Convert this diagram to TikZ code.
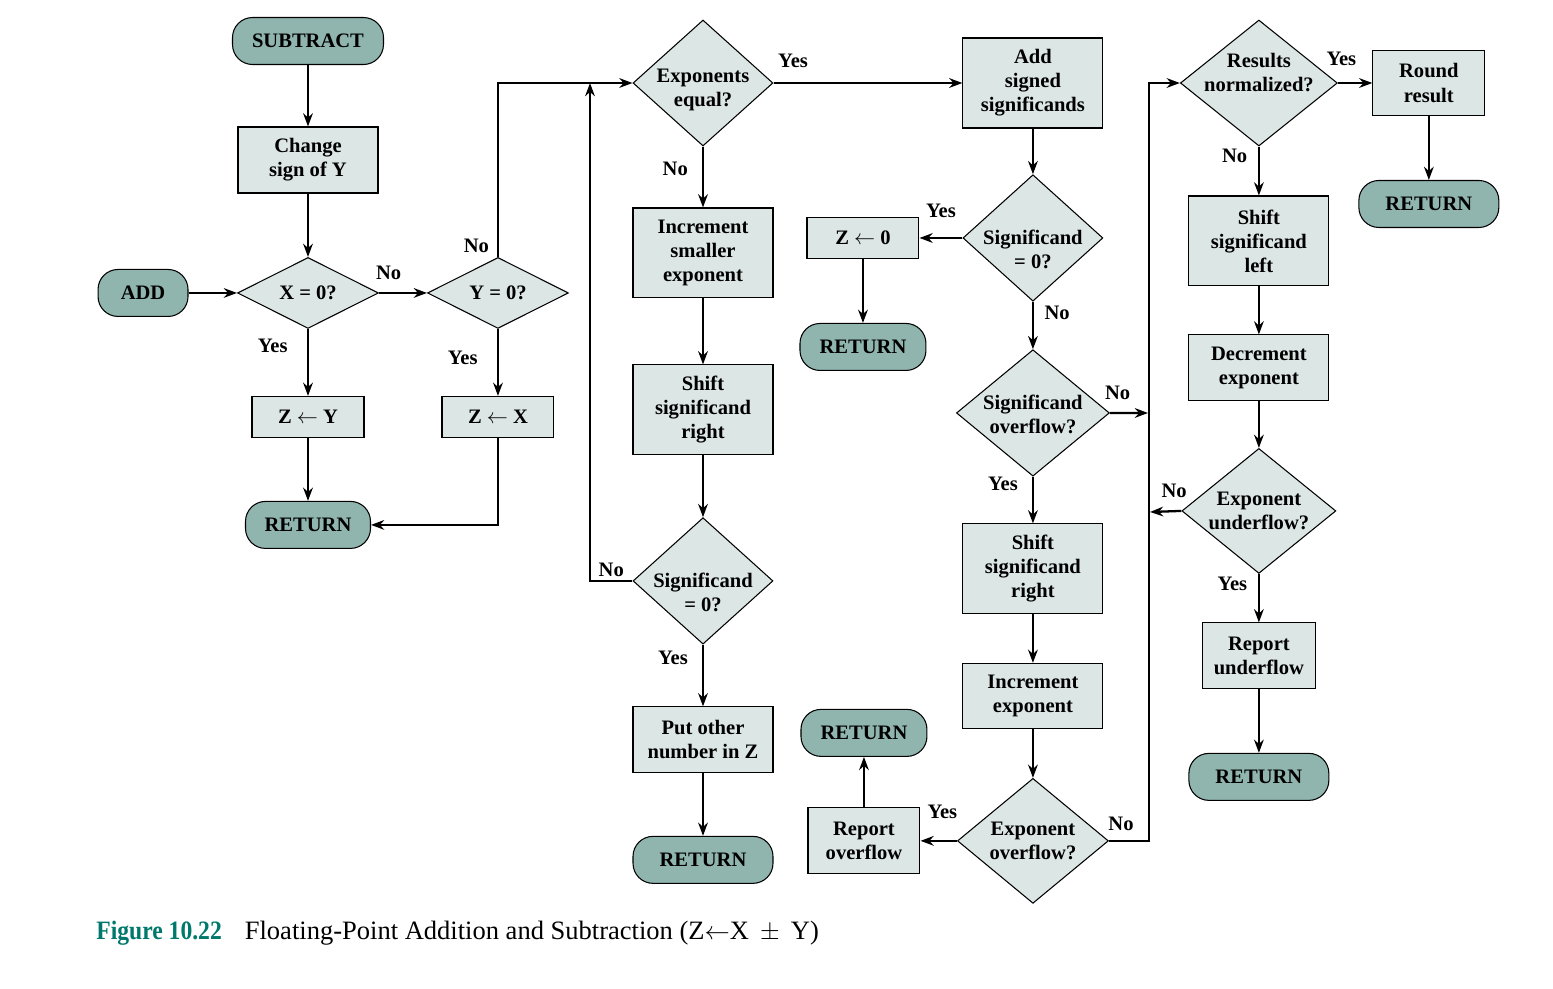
\documentclass[tikz,border=0pt]{standalone}
\usepackage{fontspec}
\setmainfont{Liberation Serif}
\usetikzlibrary{shapes.geometric, arrows, arrows.meta, positioning}
\definecolor{termfill}{HTML}{8FB5AE}
\definecolor{boxfill}{HTML}{DCE6E4}
\definecolor{figteal}{HTML}{00786B}
\newcommand{\chartfont}{\fontsize{11.7}{13.7}\selectfont\bfseries}
% text set off the middle of its diamond
\newcommand{\shifttext}[2]{\raisebox{#1}[\height][\depth]{\begin{tabular}{@{}c@{}}#2\end{tabular}}}
\tikzstyle{startstop} = [rectangle, rounded corners=0.4cm, minimum width=2.8cm, minimum height=0.94cm, text centered, draw=black, line width=0.6pt, fill=termfill, font=\chartfont]
\tikzstyle{process} = [rectangle, minimum width=2.8cm, minimum height=1.8cm, text centered, align=center, draw=black, line width=0.6pt, fill=boxfill, font=\chartfont]
\tikzstyle{decision} = [diamond, minimum width=2.8cm, minimum height=2.5cm, inner sep=-3pt, text centered, align=center, draw=black, line width=0.6pt, fill=boxfill, font=\chartfont]
\tikzstyle{answer} = [font=\chartfont, inner sep=2pt]
\tikzstyle{arrow} = [line width=1.3pt,->,>={Stealth[length=7.5pt,width=5.5pt]}]
\begin{document}
\begin{tikzpicture}[x=0.02cm, y=-0.02cm]
\useasboundingbox (0,0) rectangle (1553,988);
	% zero tests
	\node (sub) [startstop, minimum width=3.02cm] at (308,41) {SUBTRACT};
	\node (chg) [process, node distance=2.38cm, below of=sub, minimum height=1.32cm] {Change\\sign of Y};
	\node (xzero) [decision, node distance=2.66cm, below of=chg, minimum width=2.82cm, minimum height=1.42cm] {X = 0?};
	\node (add) [startstop, node distance=3.3cm, left of=xzero, minimum width=1.8cm] {ADD};
	\node (yzero) [decision, node distance=3.8cm, right of=xzero, minimum width=2.82cm, minimum height=1.42cm] {Y = 0?};
	\node (zy) [process, node distance=2.48cm, below of=xzero, minimum width=2.24cm, minimum height=0.82cm] {Z $\leftarrow$ Y};
	\node (zx) [process, node distance=2.48cm, below of=yzero, minimum width=2.24cm, minimum height=0.82cm] {Z $\leftarrow$ X};
	\node (retzero) [startstop, node distance=2.16cm, below of=zy, minimum width=2.5cm] {RETURN};
	% align exponents
	\node (expeq) [decision, minimum height=2.52cm] at (703,83) {\shifttext{-4pt}{Exponents\\equal?}};
	\node (incsmall) [process, node distance=3.4cm, below of=expeq] {Increment\\smaller\\exponent};
	\node (shiftr) [process, node distance=3.14cm, below of=incsmall] {Shift\\significand\\right};
	\node (sigzero) [decision, node distance=3.42cm, below of=shiftr] {\shifttext{-8pt}{Significand\\= 0?}};
	\node (putz) [process, node distance=3.18cm, below of=sigzero, minimum height=1.32cm] {Put other\\number in Z};
	\node (retput) [startstop, node distance=2.4cm, below of=putz] {RETURN};
	% add significands
	\node (addsig) [process, node distance=6.6cm, right of=expeq] {Add\\signed\\significands};
	\node (sumzero) [decision, node distance=3.1cm, below of=addsig] {\shifttext{-8pt}{Significand\\= 0?}};
	\node (zzero) [process, node distance=3.4cm, left of=sumzero, minimum width=2.24cm, minimum height=0.82cm] {Z $\leftarrow$ 0};
	\node (retsum) [startstop, node distance=2.18cm, below of=zzero, minimum width=2.52cm] {RETURN};
	\node (sigovf) [decision, node distance=3.5cm, below of=sumzero, minimum width=3.06cm] {\shifttext{-2pt}{Significand\\overflow?}};
	\node (shiftr2) [process, node distance=3.12cm, below of=sigovf] {Shift\\significand\\right};
	\node (incexp) [process, node distance=2.54cm, below of=shiftr2, minimum height=1.3cm] {Increment\\exponent};
	\node (expovf) [decision, node distance=2.9cm, below of=incexp, minimum width=3.02cm] {Exponent\\overflow?};
	\node (repovf) [process, node distance=3.38cm, left of=expovf, minimum width=2.24cm, minimum height=1.32cm] {Report\\overflow};
	\node (retovf) [startstop, node distance=2.16cm, above of=repovf, minimum width=2.52cm] {RETURN};
	% normalize
	\node (resnorm) [decision, node distance=4.52cm, right of=addsig, minimum width=3.14cm, minimum height=2.52cm, inner sep=-6pt] {\shifttext{5pt}{Results\\normalized?}};
	\node (round) [process, node distance=3.4cm, right of=resnorm, minimum width=2.24cm, minimum height=1.3cm] {Round\\result};
	\node (retround) [startstop, node distance=2.42cm, below of=round] {RETURN};
	\node (shiftl) [process, node distance=3.16cm, below of=resnorm] {Shift\\significand\\left};
	\node (decexp) [process, node distance=2.54cm, below of=shiftl, minimum height=1.32cm] {Decrement\\exponent};
	\node (expunf) [decision, node distance=2.86cm, below of=decexp, minimum width=3.08cm] {Exponent\\underflow?};
	\node (repunf) [process, node distance=2.9cm, below of=expunf, minimum width=2.26cm, minimum height=1.32cm] {Report\\underflow};
	\node (retunf) [startstop, node distance=2.42cm, below of=repunf] {RETURN};
	\coordinate (loopin) at (590,83);
	\coordinate (busup) at (1149,83);
	\coordinate (ovfin) at (1148,413);
	\coordinate (unfin) at (1150,512);
	\node (cap) [anchor=west, inner sep=0pt, font=\fontsize{15.1}{17}\selectfont] at (96,933) {\textcolor{figteal}{\scalebox{0.89}[1]{\bfseries Figure 10.22}}\hspace{0.46cm}Floating-Point Addition and Subtraction (Z$\leftarrow$X \,$\pm$\, Y)};
	\draw [arrow] (sub) -- (chg);
	\draw [arrow] (chg) -- (xzero);
	\draw [arrow] (add) -- (xzero);
	\draw [arrow] (xzero) -- node[answer, pos=0.2, above=5pt] {No} (yzero);
	\draw [arrow] (xzero) -- node[answer, pos=0.25, left=9pt] {Yes} (zy);
	\draw [arrow] (yzero) -- node[answer, pos=0.43, left=9pt] {Yes} (zx);
	\draw [arrow] (yzero.north) |- node[answer, pos=0, anchor=south east, xshift=-2.5pt] {No} (expeq.west);
	\draw [arrow] (zy) -- (retzero);
	\draw [arrow] (zx.south) |- (retzero.east);
	\draw [arrow] (expeq) -- node[answer, pos=0, anchor=south west, yshift=6pt] {Yes} (addsig);
	\draw [arrow] (expeq) -- node[answer, pos=0.37, left=6pt] {No} (incsmall);
	\draw [arrow] (incsmall) -- (shiftr);
	\draw [arrow] (shiftr) -- (sigzero);
	\draw [arrow] (sigzero.west) -| node[answer, pos=0.25, above] {No} (loopin);
	\draw [arrow] (sigzero) -- node[answer, pos=0.22, left=6pt] {Yes} (putz);
	\draw [arrow] (putz) -- (retput);
	\draw [arrow] (addsig) -- (sumzero);
	\draw [arrow] (sumzero) -- node[answer, pos=0.5, above=9pt] {Yes} (zzero);
	\draw [arrow] (zzero) -- (retsum);
	\draw [arrow] (sumzero) -- node[answer, pos=0.24, right=4pt] {No} (sigovf);
	\draw [arrow] (sigovf.east) -- node[answer, pos=0.2, above=5pt] {No} (ovfin);
	\draw [arrow] (sigovf) -- node[answer, pos=0.16, left=6pt] {Yes} (shiftr2);
	\draw [arrow] (shiftr2) -- (incexp);
	\draw [arrow] (incexp) -- (expovf);
	\draw [arrow] (expovf) -- node[answer, pos=0.4, above=10pt] {Yes} (repovf);
	\draw [arrow] (repovf) -- (retovf);
	\draw [arrow] (expovf.east) -| node[answer, pos=0.15, above=3pt] {No} (busup) -- (resnorm.west);
	\draw [arrow] (resnorm) -- node[answer, pos=0.1, above=7pt] {Yes} (round);
	\draw [arrow] (round) -- (retround);
	\draw [arrow] (resnorm) -- node[answer, pos=0.2, left=4pt] {No} (shiftl);
	\draw [arrow] (shiftl) -- (decexp);
	\draw [arrow] (decexp) -- (expunf);
	\draw [arrow] (expunf.west) -- node[answer, pos=0.23, above=5pt] {No} (unfin);
	\draw [arrow] (expunf) -- node[answer, pos=0.2, left=4pt] {Yes} (repunf);
	\draw [arrow] (repunf) -- (retunf);
\end{tikzpicture}
\end{document}
